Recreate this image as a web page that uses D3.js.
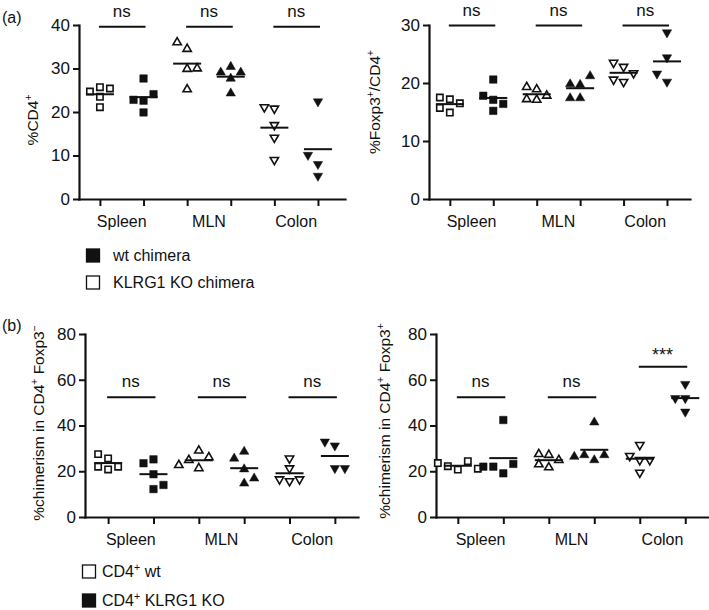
<!DOCTYPE html>
<html><head><meta charset="utf-8">
<script src="https://cdn.jsdelivr.net/npm/d3@7"></script>
<style>
body{margin:0;background:#fff}
svg{display:block}
text{font-family:"Liberation Sans",Arial,Helvetica,sans-serif;fill:#111}
</style>
</head><body>
<svg id="c" width="709" height="610"></svg>
<script>
// ---------- DATA ----------
const categories = ["Spleen", "MLN", "Colon"];
// group order: Spleen open, Spleen filled, MLN open, MLN filled, Colon open, Colon filled
const cd4Values = [
  [23.5, 21.1, 24.7, 25.4, 25.7],
  [27.7, 22.6, 19.9, 22.8, 24.1],
  [34.5, 36.0, 29.9, 30.0, 25.2],
  [30.4, 29.1, 29.1, 27.7, 24.3],
  [20.8, 17.0, 14.1, 9.0, 21.1],
  [22.4, 8.0, 5.3, 10.1]
];
const foxp3Values = [
  [17.2, 14.9, 17.5, 16.5, 15.7],
  [20.6, 17.1, 15.2, 17.8, 16.4],
  [18.9, 17.1, 19.3, 17.8, 17.2],
  [19.7, 17.4, 19.8, 21.2, 17.4],
  [22.8, 20.2, 23.5, 21.7, 20.6],
  [28.7, 24.4, 20.2, 21.6]
];
const chimFoxp3NegValues = [
  [20.8, 22.0, 22.0, 25.6, 27.5],
  [25.2, 18.7, 12.2, 23.5, 14.0],
  [29.0, 21.3, 24.9, 26.1, 22.7],
  [28.6, 20.9, 14.7, 25.6, 16.9],
  [21.3, 15.7, 25.6, 16.5, 16.5],
  [31.2, 21.3, 32.9, 21.3]
];
const chimFoxp3PosValues = [
  [20.7, 22.2, 24.4, 23.6, 21.1],
  [42.4, 19.1, 22.0, 23.2, 22.0],
  [27.1, 21.7, 27.5, 24.9, 23.0],
  [41.4, 24.9, 27.1, 27.1, 26.4],
  [31.5, 24.9, 26.7, 24.9, 19.4],
  [58.1, 51.9, 51.9, 46.0]
];
const yTicksCd4 = [0, 10, 20, 30, 40];
const yTicksFoxp3 = [0, 10, 20, 30];
const yTicksChim = [0, 20, 40, 60, 80];
const sigLabelsA1 = ["ns", "ns", "ns"];
const sigLabelsA2 = ["ns", "ns", "ns"];
const sigLabelsB1 = ["ns", "ns", "ns"];
const sigLabelsB2 = ["ns", "ns", "***"];
const sigLevelA1 = [39.6, 39.6, 39.6];
const sigLevelA2 = [29.9, 29.9, 29.9];
const sigLevelB1 = [52.3, 52.3, 52.3];
const sigLevelB2 = [52.3, 52.3, 65.7];
const legendA = ["wt chimera", "KLRG1 KO chimera"];
const legendB = ["CD4", "CD4"];
const legendBRest = [" wt", " KLRG1 KO"];

// ---------- LAYOUT ----------
const svg = d3.select("#c");
const panels = [
  {values: cd4Values, yMax: 40, ticks: yTicksCd4, sig: sigLabelsA1, sigY: sigLevelA1,
   x0: 79, x1: 345, padL: 0.48, padR: 0.62, yB: 199, yT: 25,
   title: [["%CD4", 0], ["+", 1]], tX: 37.5, tY: 120},
  {values: foxp3Values, yMax: 30, ticks: yTicksFoxp3, sig: sigLabelsA2, sigY: sigLevelA2,
   x0: 429, x1: 690, padL: 0.48, padR: 0.53, yB: 199, yT: 25,
   title: [["%Foxp3", 0], ["+", 1], ["/CD4", 0], ["+", 1]], tX: 380, tY: 102},
  {values: chimFoxp3NegValues, yMax: 80, ticks: yTicksChim, sig: sigLabelsB1, sigY: sigLevelB1,
   x0: 85, x1: 358, padL: 0.51, padR: 0.51, yB: 517, yT: 334,
   title: [["%chimerism in CD4", 0], ["+", 1], [" Foxp3", 0], ["\u2212", 1]], tX: 43.5, tY: 423},
  {values: chimFoxp3PosValues, yMax: 80, ticks: yTicksChim, sig: sigLabelsB2, sigY: sigLevelB2,
   x0: 436, x1: 708, padL: 0.48, padR: 0.5, yB: 517, yT: 334,
   title: [["%chimerism in CD4", 0], ["+", 1], [" Foxp3", 0], ["+", 1]], tX: 390, tY: 421}
];

function swarm(pys) {
  const placed = [];
  const out = [];
  const free = (c, py) => placed.every(p => !(Math.abs(p.x - c) < 9 && Math.abs(p.y - py) < 9.5));
  pys.forEach(py => {
    let ox = null;
    if (free(0, py)) ox = 0;
    const nMinus = placed.filter(p => p.x < 0).length;
    const nPlus = placed.filter(p => p.x > 0).length;
    const sides = nPlus < nMinus ? [1, -1] : [-1, 1];
    for (let k = 5; ox === null && k < 60; k += 5) {
      for (const s of sides) { if (free(s * k, py)) { ox = s * k; break; } }
    }
    placed.push({x: ox, y: py});
    out.push(ox);
  });
  return out;
}

function addTitle(sel, parts, fs) {
  let up = false;
  parts.forEach(([t, sup]) => {
    const ts = sel.append("tspan").text(t);
    if (sup) { ts.attr("font-size", fs * 0.66).attr("dy", -6); up = true; }
    else if (up) { ts.attr("dy", 6); up = false; }
  });
}

panels.forEach(p => {
  const x = d3.scaleLinear().domain([-p.padL, 5 + p.padR]).range([p.x0, p.x1]);
  const y = d3.scaleLinear().domain([0, p.yMax]).range([p.yB, p.yT]);
  const g = svg.append("g");

  const xa = g.append("g").attr("transform", `translate(0,${p.yB})`)
    .call(d3.axisBottom(x).tickValues(d3.range(6)).tickSize(7).tickSizeOuter(0).tickFormat(""));
  const ya = g.append("g").attr("transform", `translate(${p.x0},0)`)
    .call(d3.axisLeft(y).tickValues(p.ticks).tickSize(6).tickPadding(3).tickSizeOuter(0));
  [xa, ya].forEach(a => {
    a.selectAll("path.domain").attr("stroke", "#111").attr("stroke-width", 2.2).attr("stroke-linecap", "square");
    a.selectAll(".tick line").attr("stroke", "#111").attr("stroke-width", 2);
  });
  ya.selectAll(".tick text").attr("font-size", 17).attr("fill", "#111")
    .attr("font-family", "'Liberation Sans',Arial,sans-serif");

  categories.forEach((c, i) => {
    g.append("text").attr("x", x(2 * i + 0.5)).attr("y", p.yB + 28)
      .attr("text-anchor", "middle").attr("font-size", 16).text(c);
  });

  p.values.forEach((vals, gi) => {
    const pys = vals.map(v => y(v));
    const offs = swarm(pys);
    const filled = gi % 2 === 1;
    const shape = gi < 2 ? d3.symbolSquare : d3.symbolTriangle;
    const rot = gi >= 4 ? 180 : 0;
    const size = gi < 2 ? (filled ? 56 : 40) : (filled ? 38 : 30);
    g.selectAll(null).data(vals).join("path")
      .attr("d", d3.symbol().type(shape).size(size)())
      .attr("transform", (v, k) => `translate(${x(gi) + offs[k]},${pys[k]}) rotate(${rot})`)
      .attr("fill", filled ? "#111" : "#fff")
      .attr("stroke", "#111").attr("stroke-width", filled ? 0.5 : 1.6);
    const m = d3.mean(vals);
    g.append("line").attr("x1", x(gi) - 14).attr("x2", x(gi) + 14)
      .attr("y1", y(m)).attr("y2", y(m)).attr("stroke", "#111").attr("stroke-width", 2);
  });

  p.sig.forEach((s, i) => {
    const yy = y(p.sigY[i]);
    g.append("line").attr("x1", x(2 * i) - 1).attr("x2", x(2 * i + 1) + 2)
      .attr("y1", yy).attr("y2", yy).attr("stroke", "#111").attr("stroke-width", 2);
    const star = s.indexOf("*") >= 0;
    g.append("text").attr("x", x(2 * i + 0.5)).attr("y", star ? yy - 5.5 : yy - 10)
      .attr("text-anchor", "middle").attr("font-size", star ? 18 : 17).text(s);
  });

  const t = g.append("text").attr("transform", `translate(${p.tX},${p.tY}) rotate(-90)`)
    .attr("text-anchor", "middle").attr("font-size", 15.5);
  addTitle(t, p.title, 15.5);
});

// panel letters
svg.append("text").attr("x", 2).attr("y", 23).attr("font-size", 16).text("(a)");
svg.append("text").attr("x", 2).attr("y", 331).attr("font-size", 16).text("(b)");

// legend (a)
const legA = [{y: 249, fill: true}, {y: 276, fill: false}];
legA.forEach((l, i) => {
  svg.append("rect").attr("x", 86.5).attr("y", l.y).attr("width", 13).attr("height", 13)
    .attr("fill", l.fill ? "#111" : "#fff").attr("stroke", "#111").attr("stroke-width", 1.3);
  svg.append("text").attr("x", 113).attr("y", l.y + 12).attr("font-size", 16).text(legendA[i]);
});
// legend (b)
const legB = [{y: 565, fill: false}, {y: 594, fill: true}];
legB.forEach((l, i) => {
  svg.append("rect").attr("x", 82.5).attr("y", l.y).attr("width", 13).attr("height", 13)
    .attr("fill", l.fill ? "#111" : "#fff").attr("stroke", "#111").attr("stroke-width", 1.3);
  const t = svg.append("text").attr("x", 102).attr("y", l.y + 12).attr("font-size", 16);
  addTitle(t, [[legendB[i], 0], ["+", 1], [legendBRest[i], 0]], 16);
});
</script>
</body></html>
